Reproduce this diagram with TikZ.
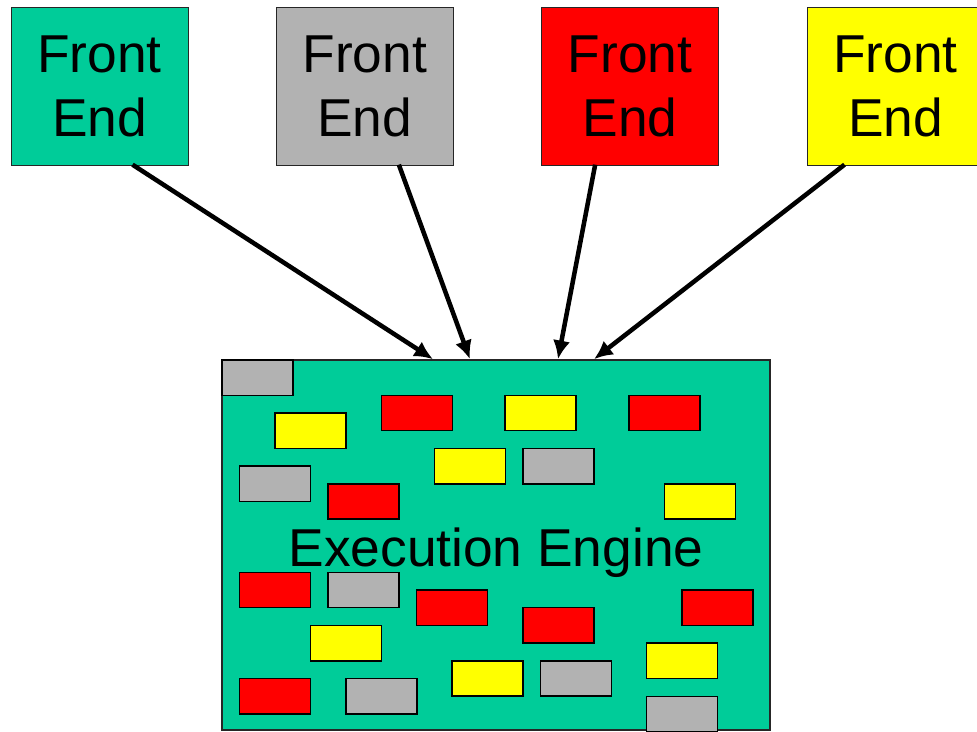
\documentclass[tikz,border=0pt]{standalone}
\usepackage{fontspec}
\setmainfont{Liberation Sans}
\usetikzlibrary{arrows.meta,calc,positioning}
\definecolor{enggreen}{RGB}{0,204,153}
\definecolor{blkgray}{RGB}{178,178,178}
\definecolor{blkred}{RGB}{255,0,0}
\definecolor{blkyellow}{RGB}{255,255,0}

\begin{document}
\begin{tikzpicture}
[x=0.75pt,y=-0.75pt,>={Latex[length=14pt,width=13pt]},
 fe/.style={draw=black!85,line width=0.75pt,minimum width=132.75pt,minimum height=118.5pt,
   inner sep=0pt,align=center,font=\fontsize{40}{48}\selectfont},
 blk/.style={draw=black,line width=1.1pt,minimum width=53.25pt,minimum height=26.5pt,
   inner sep=0pt,anchor=north west},
 flow/.style={->,line width=3.4pt}]
\useasboundingbox (0,0) rectangle (977,731);
\node[fe,fill=enggreen] (fe1) at (99.5,86.5) {Front\\End};
\node[fe,fill=blkgray,right=65.5pt of fe1] (fe2) {Front\\End};
\node[fe,fill=blkred,right=65.5pt of fe2] (fe3) {Front\\End};
\node[fe,fill=blkyellow,right=65.5pt of fe3] (fe4) {Front\\End};
\node[draw=black!85,line width=1.2pt,fill=enggreen,minimum width=411pt,minimum height=277.5pt,
  inner sep=0pt] (eng) at (496,545) {};
\foreach \cx/\ry/\col [count=\i] in {0/0/blkgray,3/3/blkyellow,9/2/blkred,16/2/blkyellow,23/2/blkred,
    1/6/blkgray,12/5/blkyellow,17/5/blkgray,6/7/blkred,25/7/blkyellow,
    1/12/blkred,6/12/blkgray,11/13/blkred,17/14/blkred,26/13/blkred,5/15/blkyellow,24/16/blkyellow,
    1/18/blkred,7/18/blkgray,13/17/blkyellow,18/17/blkgray,24/19/blkgray}
  \node[blk,fill=\col] (blk\i) at ($(eng.north west)+(\cx*17.7,\ry*17.7)$) {};
\node[font=\fontsize{40}{48}\selectfont] (englbl) at ([yshift=-6pt]eng.center) {Execution Engine};
\draw[flow] ([xshift=24.75pt,yshift=1pt]fe1.south) -- ([xshift=-47.25pt]eng.north);
\draw[flow] ([xshift=25.5pt,yshift=1pt]fe2.south) -- ([xshift=-19.5pt]eng.north);
\draw[flow] ([xshift=-26.25pt,yshift=1pt]fe3.south) -- ([xshift=46.5pt]eng.north);
\draw[flow] ([xshift=-38.25pt,yshift=1pt]fe4.south) -- ([xshift=73.5pt]eng.north);
\end{tikzpicture}
\end{document}
